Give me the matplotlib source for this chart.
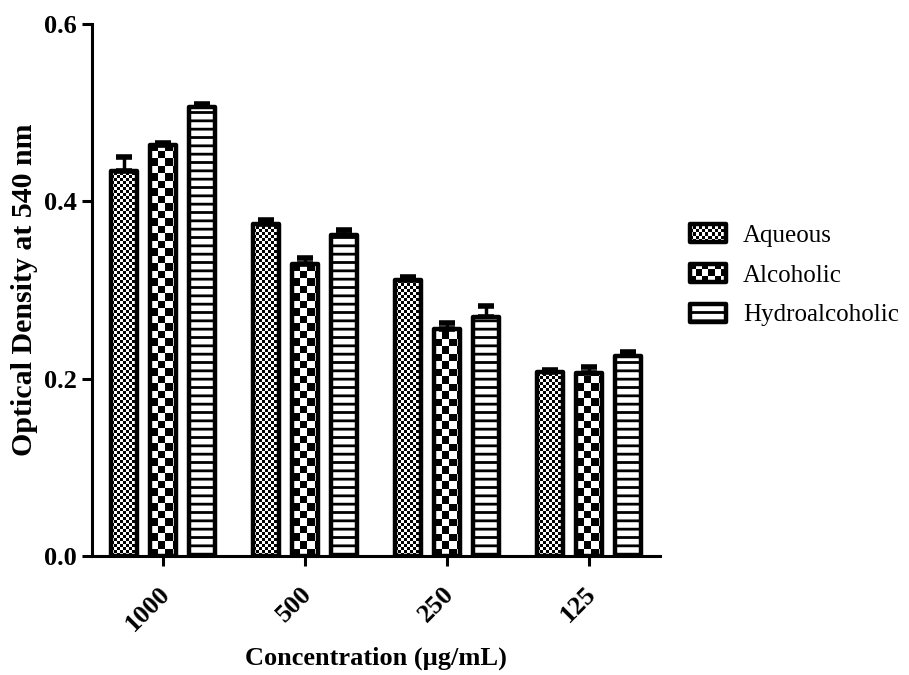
import numpy as np
import matplotlib
matplotlib.use("Agg")
import matplotlib.pyplot as plt
from matplotlib.legend_handler import HandlerBase
from matplotlib.patches import Rectangle, Patch
from matplotlib.image import BboxImage
from matplotlib.transforms import Bbox, TransformedBbox, ScaledTranslation

categories = ['1000', '500', '250', '125']
series_names = ['Aqueous', 'Alcoholic', 'Hydroalcoholic']
aqueous = [0.434, 0.374, 0.311, 0.207]
aqueous_err = [0.016, 0.005, 0.004, 0.003]
alcoholic = [0.463, 0.329, 0.256, 0.206]
alcoholic_err = [0.003, 0.007, 0.007, 0.007]
hydro = [0.506, 0.362, 0.269, 0.226]
hydro_err = [0.004, 0.006, 0.013, 0.004]
y_ticks = [0.0, 0.2, 0.4, 0.6]

plt.rcParams['font.family'] = ['Liberation Serif', 'DejaVu Serif']
plt.rcParams['hatch.linewidth'] = 2.0

fig = plt.figure(figsize=(9.09, 6.75), dpi=100)
ax = fig.add_axes([92/909, 1-556/675, (660-92)/909, (556-24)/675])
ax.set_xlim(-0.5, 3.5)
ax.set_ylim(0, 0.6)

x = np.arange(len(categories))
step = 0.275
width = 0.18
lw = 3.2

def checker(patch, cell):
    x0, y0 = patch.get_x(), patch.get_y()
    w, h = patch.get_width(), patch.get_height()
    (px0, py0), (px1, py1) = ax.transData.transform([(x0, y0), (x0 + w, y0 + h)])
    nx = int(np.ceil((px1 - px0) / cell))
    ny = int(np.ceil((py1 - py0) / cell))
    arr = np.add.outer(np.arange(ny), np.arange(nx)) % 2
    wx = nx * cell * w / (px1 - px0)
    hy = ny * cell * h / (py1 - py0)
    im = ax.imshow(arr, cmap='gray', vmin=0, vmax=1, extent=(x0, x0 + wx, y0, y0 + hy),
                   origin='lower', interpolation='nearest', aspect='auto', zorder=2)
    im.set_clip_path(patch)

cells = {'Aqueous': 3, 'Alcoholic': 7.5}
data = [(aqueous, aqueous_err), (alcoholic, alcoholic_err), (hydro, hydro_err)]
for i, (name, (vals, errs)) in enumerate(zip(series_names, data)):
    pos = x + (i - 1) * step
    if name in cells:
        faces = ax.bar(pos, vals, width, color='white', edgecolor='none', zorder=1)
        for p in faces:
            checker(p, cells[name])
        ax.bar(pos, vals, width, facecolor='none', edgecolor='black', linewidth=lw,
               joinstyle='round', zorder=3)
    else:
        ax.bar(pos, vals, width, facecolor='white', edgecolor='black', hatch='--',
               linewidth=lw, joinstyle='round', zorder=3)
    ax.errorbar(pos, vals, yerr=[np.zeros(len(vals)), errs], fmt='none', ecolor='black',
                elinewidth=2.5, capsize=5.5, capthick=4, zorder=2.5)

ax.set_xlim(-0.5, 3.5)
ax.set_ylim(0, 0.6)

for s in ['top', 'right']:
    ax.spines[s].set_visible(False)
for s in ['left', 'bottom']:
    ax.spines[s].set_linewidth(2.2)
ax.tick_params(axis='both', width=2.2, length=7.5, direction='out', labelsize=19)
ax.set_yticks(y_ticks)
ax.set_yticklabels([f'{v:.1f}' for v in y_ticks], fontweight='bold')
ax.set_xticks(x)
ax.set_xticklabels(categories, rotation=45, ha='right', rotation_mode='anchor', fontweight='bold')
off = ScaledTranslation(-5/100, -11/100, fig.dpi_scale_trans)
for lab in ax.get_xticklabels():
    lab.set_transform(lab.get_transform() + off)
ax.set_ylabel('Optical Density at 540 nm', fontsize=21.5, fontweight='bold', labelpad=4.5)
ax.set_xlabel('Concentration (µg/mL)', fontsize=19, fontweight='bold', labelpad=8)


class CheckerHandler(HandlerBase):
    def __init__(self, kind):
        super().__init__()
        self.kind = kind

    def create_artists(self, legend, orig_handle, xdescent, ydescent, width, height, fontsize, trans):
        arts = []
        bg = Rectangle((-xdescent, -ydescent), width, height, facecolor='white', edgecolor='none',
                       transform=trans)
        arts.append(bg)
        if self.kind == 'hydro':
            r = Rectangle((-xdescent, -ydescent), width, height, facecolor='white',
                          edgecolor='black', hatch='--', linewidth=lw, joinstyle='round',
                          transform=trans)
            arts.append(r)
            return arts
        cell = 3 if self.kind == 'aq' else 6
        nx = max(2, int(round(width * 1.389 / cell)))
        ny = max(2, int(round(height * 1.389 / cell)))
        arr = np.add.outer(np.arange(ny), np.arange(nx)) % 2
        bb = TransformedBbox(Bbox.from_bounds(-xdescent, -ydescent, width, height), trans)
        img = BboxImage(bb, cmap='gray', interpolation='nearest', norm=matplotlib.colors.Normalize(0, 1))
        img.set_data(arr)
        arts.append(img)
        r = Rectangle((-xdescent, -ydescent), width, height, facecolor='none',
                      edgecolor='black', linewidth=lw, joinstyle='round', transform=trans)
        arts.append(r)
        return arts


h_aq = Patch(label='Aqueous')
h_al = Patch(label='Alcoholic')
h_hy = Patch(label='Hydroalcoholic')
leg = ax.legend([h_aq, h_al, h_hy], series_names,
                handler_map={h_aq: CheckerHandler('aq'), h_al: CheckerHandler('al'),
                             h_hy: CheckerHandler('hydro')},
                loc='center left', bbox_to_anchor=(1.035, 0.528), frameon=False,
                borderaxespad=0, prop={'size': 18}, handlelength=1.45, handleheight=0.75,
                labelspacing=0.68, handletextpad=0.68)

fig.savefig('out.png', dpi=100)
